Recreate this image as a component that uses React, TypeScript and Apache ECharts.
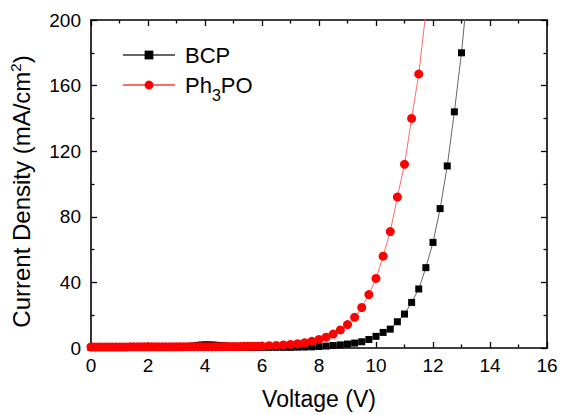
import React, { useEffect, useRef } from "react";
import * as echarts from "echarts";

const voltage = [
  0, 0.125, 0.25, 0.375, 0.5, 0.625, 0.75, 0.875,
  1, 1.125, 1.25, 1.375, 1.5, 1.625, 1.75, 1.875,
  2, 2.125, 2.25, 2.375, 2.5, 2.625, 2.75, 2.875,
  3, 3.125, 3.25, 3.375, 3.5, 3.625, 3.75, 3.875,
  4, 4.125, 4.25, 4.375, 4.5, 4.625, 4.75, 4.875,
  5, 5.125, 5.25, 5.375, 5.5, 5.625, 5.75, 5.875,
  6, 6.25, 6.5, 6.75, 7, 7.25, 7.5, 7.75, 8, 8.25, 8.5, 8.75,
  9, 9.25, 9.5, 9.75, 10, 10.25, 10.5, 10.75, 11, 11.25, 11.5, 11.75,
  12, 12.25, 12.5, 12.75, 13, 13.25,
];

const currentBCP = [
  0.3, 0.3, 0.3, 0.3, 0.3, 0.3, 0.3, 0.3,
  0.3, 0.3, 0.3, 0.3, 0.3, 0.3, 0.3, 0.3,
  0.3, 0.3, 0.3, 0.3, 0.4, 0.4, 0.4, 0.4,
  0.4, 0.5, 0.6, 0.8, 1.0, 1.3, 1.6, 1.8,
  1.9, 1.9, 1.8, 1.7, 1.5, 1.3, 1.1, 0.9,
  0.8, 0.7, 0.6, 0.5, 0.5, 0.4, 0.4, 0.4,
  0.4, 0.4, 0.4, 0.4, 0.4, 0.5, 0.6, 0.7, 0.9, 1.2, 1.5, 1.9,
  2.4, 3.0, 3.8, 5.2, 7.1, 9.5, 11.5, 16, 20.7, 27.8, 36, 49,
  64.4, 85, 111, 144, 180, 225,
];

const currentPh3PO = [
  0.6, 0.6, 0.6, 0.6, 0.6, 0.6, 0.6, 0.6,
  0.6, 0.6, 0.6, 0.7, 0.7, 0.7, 0.7, 0.7,
  0.7, 0.7, 0.7, 0.7, 0.7, 0.7, 0.7, 0.7,
  0.7, 0.7, 0.8, 0.8, 0.8, 0.8, 0.8, 0.8,
  0.8, 0.8, 0.8, 0.8, 0.8, 0.8, 0.9, 0.9,
  0.9, 0.9, 0.9, 1.0, 1.0, 1.0, 1.1, 1.1,
  1.2, 1.4, 1.6, 1.9, 2.2, 2.6, 3.2, 4.1, 5.2, 6.6, 8.5, 11,
  14.3, 18.7, 24.7, 32.6, 42.4, 56, 71, 92, 112, 140, 167, 205,
];

const seriesNames = ["BCP", "Ph3PO"];
const legendLabels: Record<string, string> = { BCP: "BCP", Ph3PO: "Ph{sub|3}PO" };

const FONT = "'Liberation Sans', Arial, sans-serif";

export default function App() {
  const ref = useRef<HTMLDivElement>(null);
  useEffect(() => {
    document.body.style.margin = "0";
    if (!ref.current) return;
    const chart = echarts.init(ref.current, null, { renderer: "svg" });
    const bcp = voltage.slice(0, currentBCP.length).map((v, i) => [v, currentBCP[i]]);
    const ph = voltage.slice(0, currentPh3PO.length).map((v, i) => [v, currentPh3PO[i]]);
    const axisLine = { show: true, onZero: false, lineStyle: { color: "#000", width: 1.6 } };
    const tick = { show: true, inside: true, length: 6, lineStyle: { color: "#000", width: 1.3 } };
    const minor = { show: true, splitNumber: 2, length: 3.5, lineStyle: { color: "#000", width: 1.3 } };
    chart.setOption({
      animation: false,
      backgroundColor: "#fff",
      textStyle: { fontFamily: FONT },
      grid: { left: 91, right: 14, top: 20, bottom: 66, containLabel: false },
      legend: {
        data: seriesNames,
        orient: "vertical",
        left: 122,
        top: 43,
        padding: 0,
        itemWidth: 52,
        itemHeight: 11,
        itemGap: 6,
        formatter: (n: string) => legendLabels[n],
        textStyle: {
          fontFamily: FONT,
          fontSize: 22,
          color: "#000",
          lineHeight: 24,
          padding: [0, 0, 0, 5],
          rich: {
            sub: { fontFamily: FONT, fontSize: 16, color: "#000", lineHeight: 14, verticalAlign: "top", padding: [14, 0, 0, 0] },
          },
        },
      },
      xAxis: [
        {
          type: "value",
          min: 0,
          max: 16,
          interval: 2,
          name: "Voltage (V)",
          nameLocation: "middle",
          nameGap: 39,
          nameTextStyle: { fontFamily: FONT, fontSize: 23, color: "#000" },
          axisLine,
          axisTick: tick,
          minorTick: minor,
          splitLine: { show: false },
          axisLabel: { fontFamily: FONT, fontSize: 19, color: "#000", margin: 8 },
        },
        {
          type: "value",
          position: "top",
          min: 0,
          max: 16,
          interval: 2,
          axisLine,
          axisTick: tick,
          minorTick: minor,
          splitLine: { show: false },
          axisLabel: { show: false },
        },
      ],
      yAxis: [
        {
          type: "value",
          min: 0,
          max: 200,
          interval: 40,
          name: "Current Density (mA/cm{sup|2})",
          nameLocation: "middle",
          nameGap: 57,
          nameTextStyle: {
            fontFamily: FONT,
            fontSize: 24,
            color: "#000",
            lineHeight: 26,
            padding: [0, 15, 0, 0],
            rich: {
              sup: { fontFamily: FONT, fontSize: 15, color: "#000", verticalAlign: "top", padding: [0, 0, 8, 0] },
            },
          },
          axisLine,
          axisTick: tick,
          minorTick: minor,
          splitLine: { show: false },
          axisLabel: { fontFamily: FONT, fontSize: 19, color: "#000", margin: 10 },
        },
        {
          type: "value",
          position: "right",
          min: 0,
          max: 200,
          interval: 40,
          axisLine,
          axisTick: tick,
          minorTick: minor,
          splitLine: { show: false },
          axisLabel: { show: false },
        },
      ],
      series: [
        {
          name: "BCP",
          type: "line",
          data: bcp,
          symbol: "rect",
          symbolSize: 7,
          clip: true,
          itemStyle: { color: "#000" },
          lineStyle: { color: "#666", width: 1 },
        },
        {
          name: "Ph3PO",
          type: "line",
          data: ph,
          symbol: "circle",
          symbolSize: 9,
          clip: true,
          itemStyle: { color: "#ff0000" },
          lineStyle: { color: "#ff6a6a", width: 1 },
        },
      ],
    });
    return () => chart.dispose();
  }, []);
  return <div ref={ref} style={{ width: 561, height: 415 }} />;
}
